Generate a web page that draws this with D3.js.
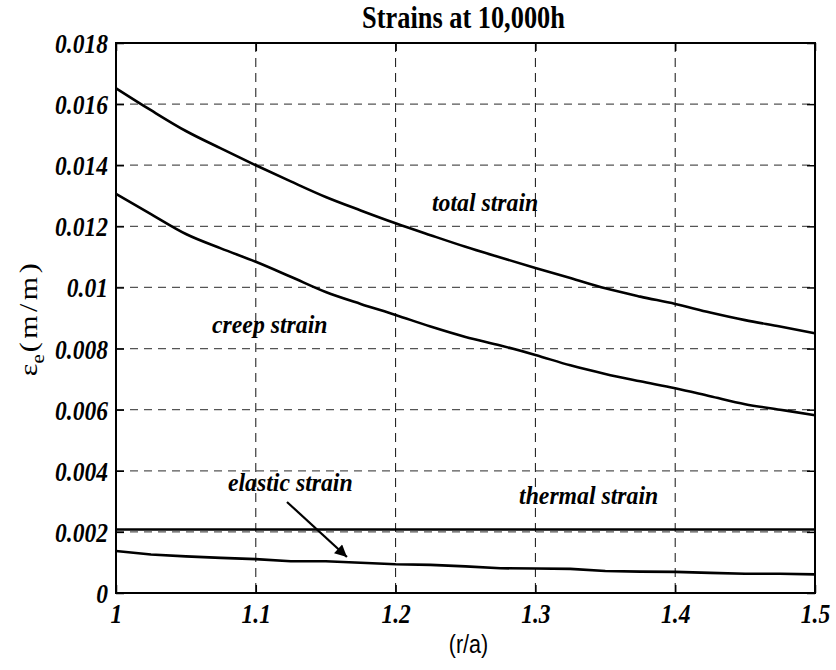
<!DOCTYPE html>
<html>
<head>
<meta charset="utf-8">
<script src="https://cdn.jsdelivr.net/npm/d3@7"></script>
<style>
  body { margin: 0; background: #fff; }
  .tick-label { font-family: "Liberation Serif", "Times New Roman", serif; font-weight: bold; font-style: italic; }
  .curve-label { font-family: "Liberation Serif", "Times New Roman", serif; font-weight: bold; font-style: italic; font-size: 25px; }
</style>
</head>
<body>
<div id="chart"></div>
<script>
// 1. Access data

const rValues = [1.000, 1.025, 1.050, 1.075, 1.100, 1.125, 1.150, 1.175, 1.200, 1.225, 1.250,
                 1.275, 1.300, 1.325, 1.350, 1.375, 1.400, 1.425, 1.450, 1.475, 1.500]

const totalStrain = [0.01652, 0.01580, 0.01512, 0.01455, 0.01400, 0.01347, 0.01296, 0.01252, 0.01210, 0.01171, 0.01133,
                     0.01098, 0.01064, 0.01031, 0.00997, 0.00970, 0.00946, 0.00918, 0.00893, 0.00872, 0.00850]

const creepStrain = [0.01306, 0.01240, 0.01175, 0.01128, 0.01084, 0.01035, 0.00985, 0.00946, 0.00910, 0.00872, 0.00838,
                     0.00810, 0.00779, 0.00745, 0.00717, 0.00693, 0.00670, 0.00644, 0.00618, 0.00600, 0.00582]

const elasticStrain = [0.001375, 0.00126, 0.00120, 0.00115, 0.00111, 0.00104, 0.00104, 0.00099, 0.00094, 0.00092, 0.00087,
                       0.00081, 0.00080, 0.00079, 0.00072, 0.00070, 0.00069, 0.00066, 0.00063, 0.00063, 0.00061]

const thermalR = [1.0, 1.5]
const thermalStrain = [0.00208, 0.00208]

const xTicks = [1, 1.1, 1.2, 1.3, 1.4, 1.5]
const xTickLabels = ["1", "1.1", "1.2", "1.3", "1.4", "1.5"]
const yTicks = [0, 0.002, 0.004, 0.006, 0.008, 0.01, 0.012, 0.014, 0.016, 0.018]
const yTickLabels = ["0", "0.002", "0.004", "0.006", "0.008", "0.01", "0.012", "0.014", "0.016", "0.018"]

const labelTexts = ["total strain", "creep strain", "elastic strain", "thermal strain"]
const labelR = [1.226, 1.0687, 1.0801, 1.2883]
const labelValues = [0.0125, 0.00852, 0.00334, 0.0029]

const arrowR = [1.1223, 1.1652]
const arrowValues = [0.00298, 0.00118]

const smoothSeries = [totalStrain, creepStrain]

// 2. Create chart dimensions

let dimensions = {
  width: 836,
  height: 670,
  margin: {
    top: 43,
    right: 21,
    bottom: 77,
    left: 116,
  },
}
dimensions.boundedWidth = dimensions.width
  - dimensions.margin.left
  - dimensions.margin.right
dimensions.boundedHeight = dimensions.height
  - dimensions.margin.top
  - dimensions.margin.bottom

// squeeze text horizontally, the original figure is a bit condensed
function squeeze(selection, k) {
  selection.each(function() {
    const len = this.getComputedTextLength()
    d3.select(this)
      .attr("textLength", len * k)
      .attr("lengthAdjust", "spacingAndGlyphs")
  })
}

// 3. Draw canvas

const svg = d3.select("#chart")
  .append("svg")
    .attr("width", dimensions.width)
    .attr("height", dimensions.height)

const bounds = svg.append("g")
    .attr("transform", `translate(${dimensions.margin.left},${dimensions.margin.top})`)

// 4. Create scales

const xScale = d3.scaleLinear()
    .domain([1, 1.5])
    .range([0, dimensions.boundedWidth])

const yScale = d3.scaleLinear()
    .domain([0, 0.018])
    .range([dimensions.boundedHeight, 0])

// grid
bounds.append("g")
  .selectAll("line")
  .data(xTicks.slice(1, -1))
  .enter().append("line")
    .attr("x1", d => xScale(d))
    .attr("x2", d => xScale(d))
    .attr("y1", 0)
    .attr("y2", dimensions.boundedHeight)
    .attr("stroke", "#111")
    .attr("stroke-width", 1)
    .attr("stroke-dasharray", "9,6")

bounds.append("g")
  .selectAll("line")
  .data(yTicks.slice(1, -1))
  .enter().append("line")
    .attr("x1", 0)
    .attr("x2", dimensions.boundedWidth)
    .attr("y1", d => yScale(d))
    .attr("y2", d => yScale(d))
    .attr("stroke", "#555")
    .attr("stroke-width", 1.2)
    .attr("stroke-dasharray", "8,6")

// 5. Draw data

const smoothLine = values => d3.line()
    .x((d, i) => xScale(rValues[i]))
    .y(d => yScale(d))
    .curve(d3.curveMonotoneX)(values)

bounds.selectAll(".curve")
  .data(smoothSeries)
  .enter().append("path")
    .attr("class", "curve")
    .attr("d", smoothLine)
    .attr("fill", "none")
    .attr("stroke", "#000")
    .attr("stroke-width", 2.6)

bounds.append("path")
    .attr("d", d3.line()
      .x((d, i) => xScale(rValues[i]))
      .y(d => yScale(d))(elasticStrain))
    .attr("fill", "none")
    .attr("stroke", "#000")
    .attr("stroke-width", 2.6)

bounds.append("path")
    .attr("d", d3.line()
      .x((d, i) => xScale(thermalR[i]))
      .y(d => yScale(d))(thermalStrain))
    .attr("fill", "none")
    .attr("stroke", "#000")
    .attr("stroke-width", 2.6)

// 6. Draw peripherals

const xAxis = bounds.append("g")
    .attr("transform", `translate(0,${dimensions.boundedHeight})`)
    .call(d3.axisBottom(xScale)
      .tickValues(xTicks)
      .tickFormat((d, i) => xTickLabels[i])
      .tickSizeInner(-8)
      .tickSizeOuter(0)
      .tickPadding(11))

const yAxis = bounds.append("g")
    .call(d3.axisLeft(yScale)
      .tickValues(yTicks)
      .tickFormat((d, i) => yTickLabels[i])
      .tickSizeInner(-8)
      .tickSizeOuter(0)
      .tickPadding(8))

bounds.append("g")
    .attr("transform", `translate(${dimensions.boundedWidth},0)`)
    .call(d3.axisRight(yScale).tickValues(yTicks).tickFormat("").tickSizeInner(-8).tickSizeOuter(0))

bounds.append("g")
    .call(d3.axisTop(xScale).tickValues(xTicks).tickFormat("").tickSizeInner(-8).tickSizeOuter(0))

bounds.selectAll(".domain").remove()
bounds.selectAll(".tick line").attr("stroke", "#000").attr("stroke-width", 1.5)

xAxis.selectAll("text")
    .attr("class", "tick-label")
    .attr("font-size", 28)
    .attr("fill", "#000")
    .attr("dy", "0.68em")
yAxis.selectAll("text")
    .attr("class", "tick-label")
    .attr("font-size", 28)
    .attr("fill", "#000")
    .attr("dy", "0.34em")
squeeze(bounds.selectAll(".tick-label"), 0.84)

bounds.append("rect")
    .attr("width", dimensions.boundedWidth)
    .attr("height", dimensions.boundedHeight)
    .attr("fill", "none")
    .attr("stroke", "#000")
    .attr("stroke-width", 2)

// curve labels
const curveLabels = bounds.selectAll(".curve-label")
  .data(labelTexts)
  .enter().append("text")
    .attr("class", "curve-label")
    .attr("x", (d, i) => xScale(labelR[i]))
    .attr("y", (d, i) => yScale(labelValues[i]))
    .attr("fill", "#000")
    .text(d => d)
squeeze(curveLabels, 0.95)

// arrow
const defs = svg.append("defs")
defs.append("marker")
    .attr("id", "arrow-head")
    .attr("viewBox", "0 0 10 10")
    .attr("refX", 10)
    .attr("refY", 5)
    .attr("markerWidth", 17)
    .attr("markerHeight", 12)
    .attr("markerUnits", "userSpaceOnUse")
    .attr("orient", "auto")
  .append("path")
    .attr("d", "M0,0 L10,5 L0,10 Z")
    .attr("fill", "#000")

bounds.append("line")
    .attr("x1", xScale(arrowR[0]))
    .attr("y1", yScale(arrowValues[0]))
    .attr("x2", xScale(arrowR[1]))
    .attr("y2", yScale(arrowValues[1]))
    .attr("stroke", "#000")
    .attr("stroke-width", 2.2)
    .attr("marker-end", "url(#arrow-head)")

// title
const title = svg.append("text")
    .attr("x", dimensions.margin.left + dimensions.boundedWidth / 2 - 2)
    .attr("y", 28)
    .attr("text-anchor", "middle")
    .attr("fill", "#000")
    .style("font-family", "'Liberation Serif', 'Times New Roman', serif")
    .style("font-weight", "bold")
    .style("font-size", "31px")
    .text("Strains at 10,000h")
squeeze(title, 0.85)

// x label
const xLabel = svg.append("text")
    .attr("x", dimensions.margin.left + dimensions.boundedWidth / 2 + 3)
    .attr("y", 653)
    .attr("text-anchor", "middle")
    .attr("fill", "#000")
    .style("font-family", "'Liberation Sans', Arial, sans-serif")
    .style("font-size", "25px")
    .text("(r/a)")
squeeze(xLabel, 0.86)

// y label
const yLabel = svg.append("text")
    .attr("transform", `translate(37,${dimensions.margin.top + dimensions.boundedHeight / 2}) rotate(-90) scale(1,0.87)`)
    .attr("text-anchor", "middle")
    .attr("fill", "#000")
    .style("font-family", "'Liberation Serif', 'Times New Roman', serif")
    .style("font-size", "30px")

yLabel.append("tspan").text("ε")
yLabel.append("tspan")
    .attr("dy", 8)
    .style("font-size", "21px")
    .text("e")
yLabel.append("tspan")
    .attr("dy", -8)
    .attr("dx", 2)
    .style("letter-spacing", "3.5px")
    .text("(m/m)")
</script>
</body>
</html>
